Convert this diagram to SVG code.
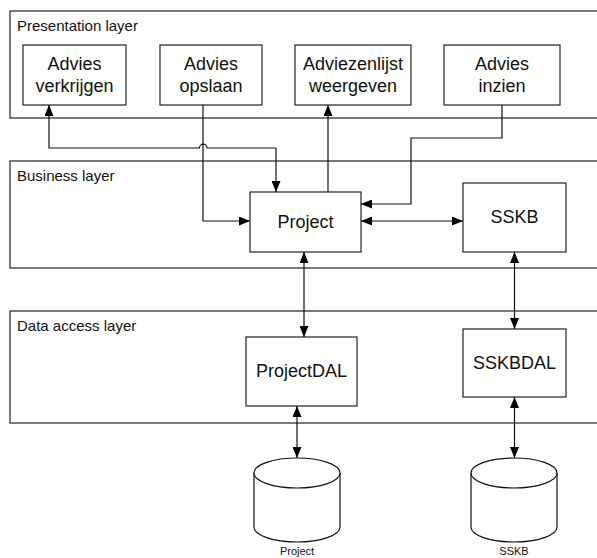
<svg xmlns="http://www.w3.org/2000/svg" width="597" height="558" viewBox="0 0 597 558">
  <style>
    .layer { fill: #fff; stroke: #222; stroke-width: 1.2; }
    .box { fill: #fff; stroke: #222; stroke-width: 1.2; }
    .db { fill: #fff; stroke: #111; stroke-width: 1.2; }
    .layer-label { font-family: "Liberation Sans", Arial, sans-serif; font-size: 15px; fill: #111; }
    .node-label { font-family: "Liberation Sans", Arial, sans-serif; font-size: 18px; fill: #111; text-anchor: middle; }
    .db-label { font-family: "Liberation Sans", Arial, sans-serif; font-size: 11px; fill: #111; text-anchor: middle; }
    .conn { fill: none; stroke: #111; stroke-width: 1.2; }
  </style>
  <defs>
    <marker id="arrow" markerUnits="userSpaceOnUse" markerWidth="11" markerHeight="9" refX="11" refY="4.5" orient="auto-start-reverse">
      <path d="M0,0 L11,4.5 L0,9 z" fill="#000"/>
    </marker>
  </defs>

  <rect width="597" height="558" fill="#fff"/>

  <!-- layers -->
  <g id="presentation-layer">
    <rect class="layer" x="10" y="11" width="600" height="107"/>
    <text class="layer-label" x="17" y="31">Presentation layer</text>
  </g>
  <g id="business-layer">
    <rect class="layer" x="10" y="161" width="600" height="107"/>
    <text class="layer-label" x="17" y="181">Business layer</text>
  </g>
  <g id="data-access-layer">
    <rect class="layer" x="10" y="311" width="600" height="112"/>
    <text class="layer-label" x="17" y="331">Data access layer</text>
  </g>

  <!-- presentation nodes -->
  <g id="advies-verkrijgen">
    <rect class="box" x="23" y="45" width="103" height="60"/>
    <text class="node-label" x="74.5" y="70">Advies</text>
    <text class="node-label" x="74.5" y="92">verkrijgen</text>
  </g>
  <g id="advies-opslaan">
    <rect class="box" x="160" y="45" width="102" height="60"/>
    <text class="node-label" x="211" y="70">Advies</text>
    <text class="node-label" x="211" y="92">opslaan</text>
  </g>
  <g id="adviezenlijst-weergeven">
    <rect class="box" x="295" y="45" width="116" height="60"/>
    <text class="node-label" x="353" y="70">Adviezenlijst</text>
    <text class="node-label" x="353" y="92">weergeven</text>
  </g>
  <g id="advies-inzien">
    <rect class="box" x="444" y="45" width="116" height="60"/>
    <text class="node-label" x="502" y="70">Advies</text>
    <text class="node-label" x="502" y="92">inzien</text>
  </g>

  <!-- business nodes -->
  <g id="project">
    <rect class="box" x="250" y="192" width="111" height="60"/>
    <text class="node-label" x="305.5" y="228">Project</text>
  </g>
  <g id="sskb">
    <rect class="box" x="463" y="183" width="103" height="69"/>
    <text class="node-label" x="514.5" y="223">SSKB</text>
  </g>

  <!-- data access nodes -->
  <g id="project-dal">
    <rect class="box" x="246" y="337" width="111" height="69"/>
    <text class="node-label" x="301.5" y="377">ProjectDAL</text>
  </g>
  <g id="sskb-dal">
    <rect class="box" x="463" y="329" width="103" height="68"/>
    <text class="node-label" x="514.5" y="369">SSKBDAL</text>
  </g>

  <!-- databases -->
  <g id="project-db">
    <path class="db" d="M254,473 L254,527 A43,15 0 0 0 340,527 L340,473 A43,15 0 0 0 254,473 Z"/>
    <path class="db" d="M254,473 A43,15 0 0 0 340,473"/>
    <text class="db-label" x="297" y="555">Project</text>
  </g>
  <g id="sskb-db">
    <path class="db" d="M471,473 L471,527 A43,15 0 0 0 557,527 L557,473 A43,15 0 0 0 471,473 Z"/>
    <path class="db" d="M471,473 A43,15 0 0 0 557,473"/>
    <text class="db-label" x="514" y="555">SSKB</text>
  </g>

  <!-- connectors -->
  <g id="connectors">
    <path class="conn" d="M276,148 L207,148 A3.8,3.8 0 0 0 199.4,148 L49,148 L49,105" marker-end="url(#arrow)"/>
    <path class="conn" d="M276,148 L276,192" marker-end="url(#arrow)"/>
    <path class="conn" d="M203,105 L203,221 L250,221" marker-end="url(#arrow)"/>
    <path class="conn" d="M328,192 L328,105" marker-end="url(#arrow)"/>
    <path class="conn" d="M502,105 L502,138 L411,138 L411,204 L361,204" marker-end="url(#arrow)"/>
    <path class="conn" d="M361,221 L463,221" marker-start="url(#arrow)" marker-end="url(#arrow)"/>
    <path class="conn" d="M304,252 L304,337" marker-start="url(#arrow)" marker-end="url(#arrow)"/>
    <path class="conn" d="M514.5,252 L514.5,329" marker-start="url(#arrow)" marker-end="url(#arrow)"/>
    <path class="conn" d="M297,406 L297,458" marker-start="url(#arrow)" marker-end="url(#arrow)"/>
    <path class="conn" d="M514.5,397 L514.5,458" marker-start="url(#arrow)" marker-end="url(#arrow)"/>
  </g>
</svg>
